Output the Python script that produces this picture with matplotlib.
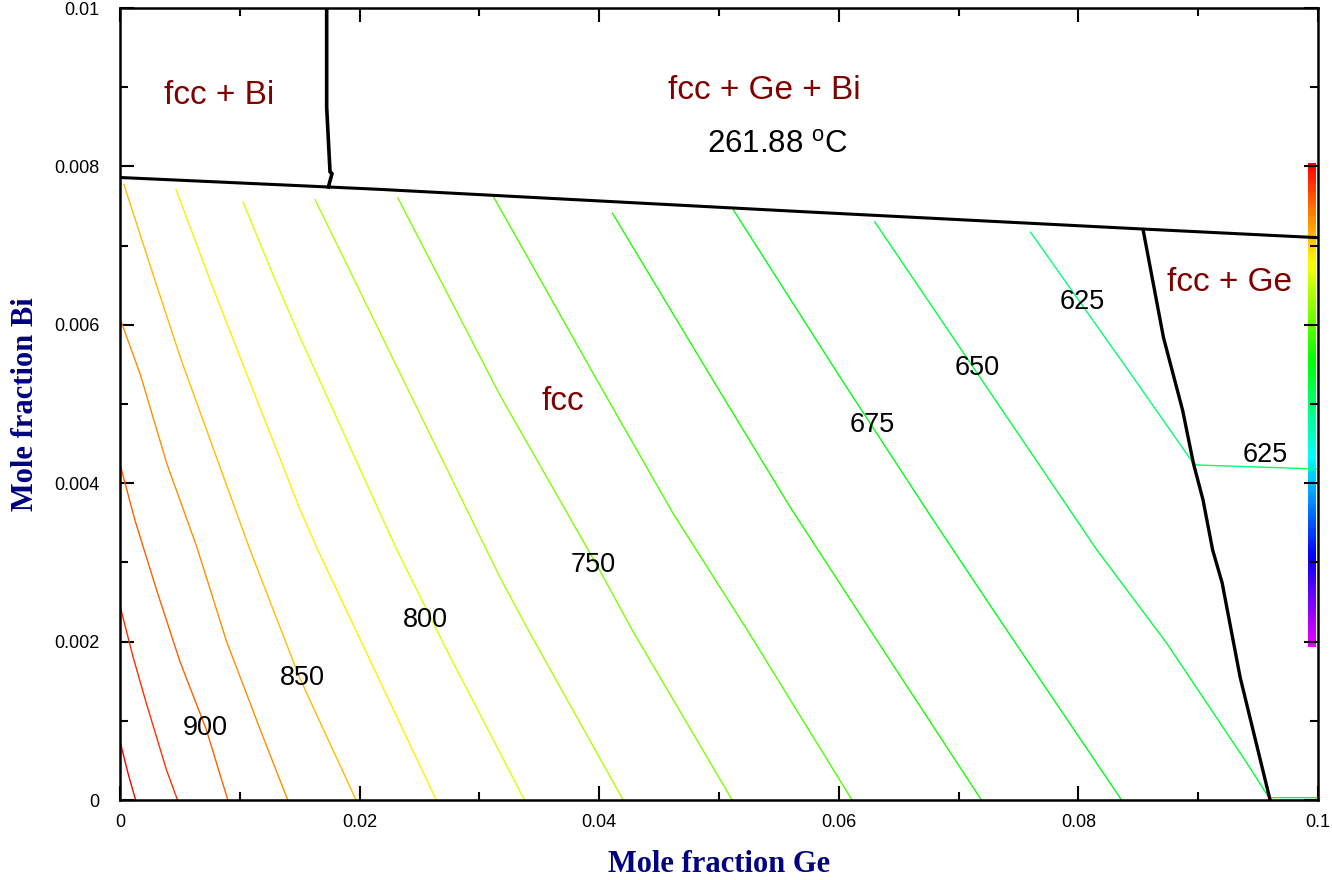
import numpy as np
import matplotlib
matplotlib.use("Agg")
import matplotlib.pyplot as plt
from matplotlib.ticker import MultipleLocator

plt.rcParams['font.family'] = ['Liberation Sans', 'DejaVu Sans']
plt.rcParams['mathtext.fontset'] = 'custom'
plt.rcParams['mathtext.rm'] = 'Liberation Sans'

# isotherms (deg C), x = mole fraction Ge, y = mole fraction Bi
levels = [950, 925, 900, 875, 850, 825, 800, 775, 750, 725, 700, 675, 650, 625]
iso_x = [
    [0.0, 0.0007, 0.0013],
    [0.0, 0.0011, 0.0022, 0.0039, 0.0048],
    [0.0, 0.00125, 0.0031, 0.0050, 0.0072, 0.0090],
    [0.0, 0.0017, 0.0039, 0.0064, 0.0089, 0.0117, 0.0140],
    [0.00033, 0.0029, 0.0051, 0.01085, 0.0150, 0.0197],
    [0.00467, 0.0075, 0.0100, 0.0150, 0.0165, 0.0264],
    [0.01027, 0.01294, 0.0150, 0.0231, 0.02755, 0.03376],
    [0.01628, 0.03172, 0.03406, 0.0420],
    [0.0232, 0.03172, 0.0399, 0.04274, 0.0511],
    [0.0312, 0.03982, 0.04616, 0.05234, 0.0611],
    [0.0411, 0.0495, 0.05593, 0.0626, 0.0719],
    [0.0512, 0.06027, 0.06786, 0.07346, 0.0836],
    [0.0630, 0.07195, 0.08153, 0.08737, 0.09405, 0.0959, 0.1],
    [0.0760, 0.0804, 0.08456, 0.0896, 0.0899, 0.0999],
]
iso_y = [
    [0.00074, 0.00032, 0.0],
    [0.00245, 0.0018, 0.00122, 0.00037, 0.0],
    [0.00424, 0.00353, 0.00263, 0.00175, 0.00089, 0.0],
    [0.00608, 0.00537, 0.00425, 0.0032, 0.0020, 0.00089, 0.0],
    [0.00777, 0.00657, 0.00556, 0.00316, 0.00154, 0.0],
    [0.00771, 0.00657, 0.0056, 0.00368, 0.00316, 0.0],
    [0.00755, 0.00657, 0.00585, 0.00316, 0.00181, 0.0],
    [0.00758, 0.00281, 0.00215, 0.0],
    [0.0076, 0.00511, 0.00294, 0.00215, 0.0],
    [0.00761, 0.0053, 0.00362, 0.00215, 0.0],
    [0.00741, 0.0053, 0.0037, 0.00215, 0.0],
    [0.00745, 0.0053, 0.00354, 0.00227, 0.0],
    [0.0073, 0.0053, 0.00316, 0.00198, 0.00047, 0.00003, 0.00003],
    [0.00717, 0.00623, 0.00534, 0.00425, 0.00423, 0.00418],
]

# phase boundaries
top_bnd_x = [0.0, 0.0174, 0.0217, 0.0568, 0.0853, 0.1]
top_bnd_y = [0.00786, 0.00774, 0.00771, 0.00743, 0.00721, 0.0071]
bi_bnd_x = [0.01725, 0.01725, 0.01753, 0.0177, 0.01739]
bi_bnd_y = [0.01, 0.00875, 0.00793, 0.00791, 0.00774]
ge_bnd_x = [0.0854, 0.0871, 0.0887, 0.0896, 0.0904, 0.0912, 0.0920, 0.0935, 0.0960]
ge_bnd_y = [0.0072, 0.00584, 0.00492, 0.00425, 0.00379, 0.00316, 0.00274, 0.00155, 0.0]

# contour labels
lab_text = ['900', '850', '800', '750', '675', '650', '625', '625']
lab_x = [0.0071, 0.01519, 0.02546, 0.03948, 0.06277, 0.07154, 0.0803, 0.09558]
lab_y = [0.00091, 0.00154, 0.00227, 0.00297, 0.00473, 0.00545, 0.00629, 0.00436]

# phase region names
reg_text = ['fcc + Bi', 'fcc + Ge + Bi', 'fcc + Ge', 'fcc']
reg_x = [0.00826, 0.05376, 0.09265, 0.03698]
reg_y = [0.00889, 0.00896, 0.00654, 0.00503]

T_hi, T_lo = 950, 300


def iso_color(T):
    # rainbow: red at hot end, towards magenta at cold end
    return plt.cm.hsv((T_hi - T) / (T_hi - T_lo) * 300 / 360)


fig = plt.figure(figsize=(13.32, 8.8), dpi=100)
ax = fig.add_axes([0.0901, 0.0909, 0.8994, 0.9])

for T, xs, ys in zip(levels, iso_x, iso_y):
    ax.plot(xs, ys, color=iso_color(T), lw=1.0)

ax.plot(top_bnd_x, top_bnd_y, color='black', lw=2.2)
ax.plot(bi_bnd_x, bi_bnd_y, color='black', lw=2.6)
ax.plot(ge_bnd_x, ge_bnd_y, color='black', lw=2.4)

for t, x, y in zip(lab_text, lab_x, lab_y):
    ax.text(x, y, t, fontsize=19.5, ha='center', va='center', color='black')

for t, x, y in zip(reg_text, reg_x, reg_y):
    ax.text(x, y, t, fontsize=24, ha='center', va='center', color='#800000')

ax.text(0.05484, 0.00827, '261.88 $^\\mathrm{o}$C', fontsize=22.5,
        ha='center', va='center', color='black')

# colour scale strip at right edge
grad = np.linspace(0, 300 / 360, 256).reshape(-1, 1)
ax.imshow(grad, extent=(0.09917, 0.09983, 0.00193, 0.00803), origin='upper',
          aspect='auto', cmap='hsv', vmin=0, vmax=1, zorder=1)

ax.set_xlim(0, 0.1)
ax.set_ylim(0, 0.01)
ax.xaxis.set_minor_locator(MultipleLocator(0.01))
ax.yaxis.set_minor_locator(MultipleLocator(0.001))
ax.set_xticks([0, 0.02, 0.04, 0.06, 0.08, 0.1])
ax.set_xticklabels(['0', '0.02', '0.04', '0.06', '0.08', '0.1'])
ax.set_yticks([0, 0.002, 0.004, 0.006, 0.008, 0.01])
ax.set_yticklabels(['0', '0.002', '0.004', '0.006', '0.008', '0.01'])
ax.tick_params(which='both', direction='in', top=True, right=True, width=1.5,
               labelsize=13)
ax.tick_params(which='major', length=10)
ax.tick_params(which='minor', length=6)
ax.tick_params(axis='x', pad=10)
ax.tick_params(axis='y', pad=15)
for s in ax.spines.values():
    s.set_linewidth(1.8)

ax.set_xlabel('Mole fraction Ge', fontsize=22, fontweight='bold',
              family='Liberation Serif', color='#000080', labelpad=14)
ax.set_ylabel('Mole fraction Bi', fontsize=22, fontweight='bold',
              family='Liberation Serif', color='#000080', labelpad=10)

fig.savefig('out.png', dpi=100)
